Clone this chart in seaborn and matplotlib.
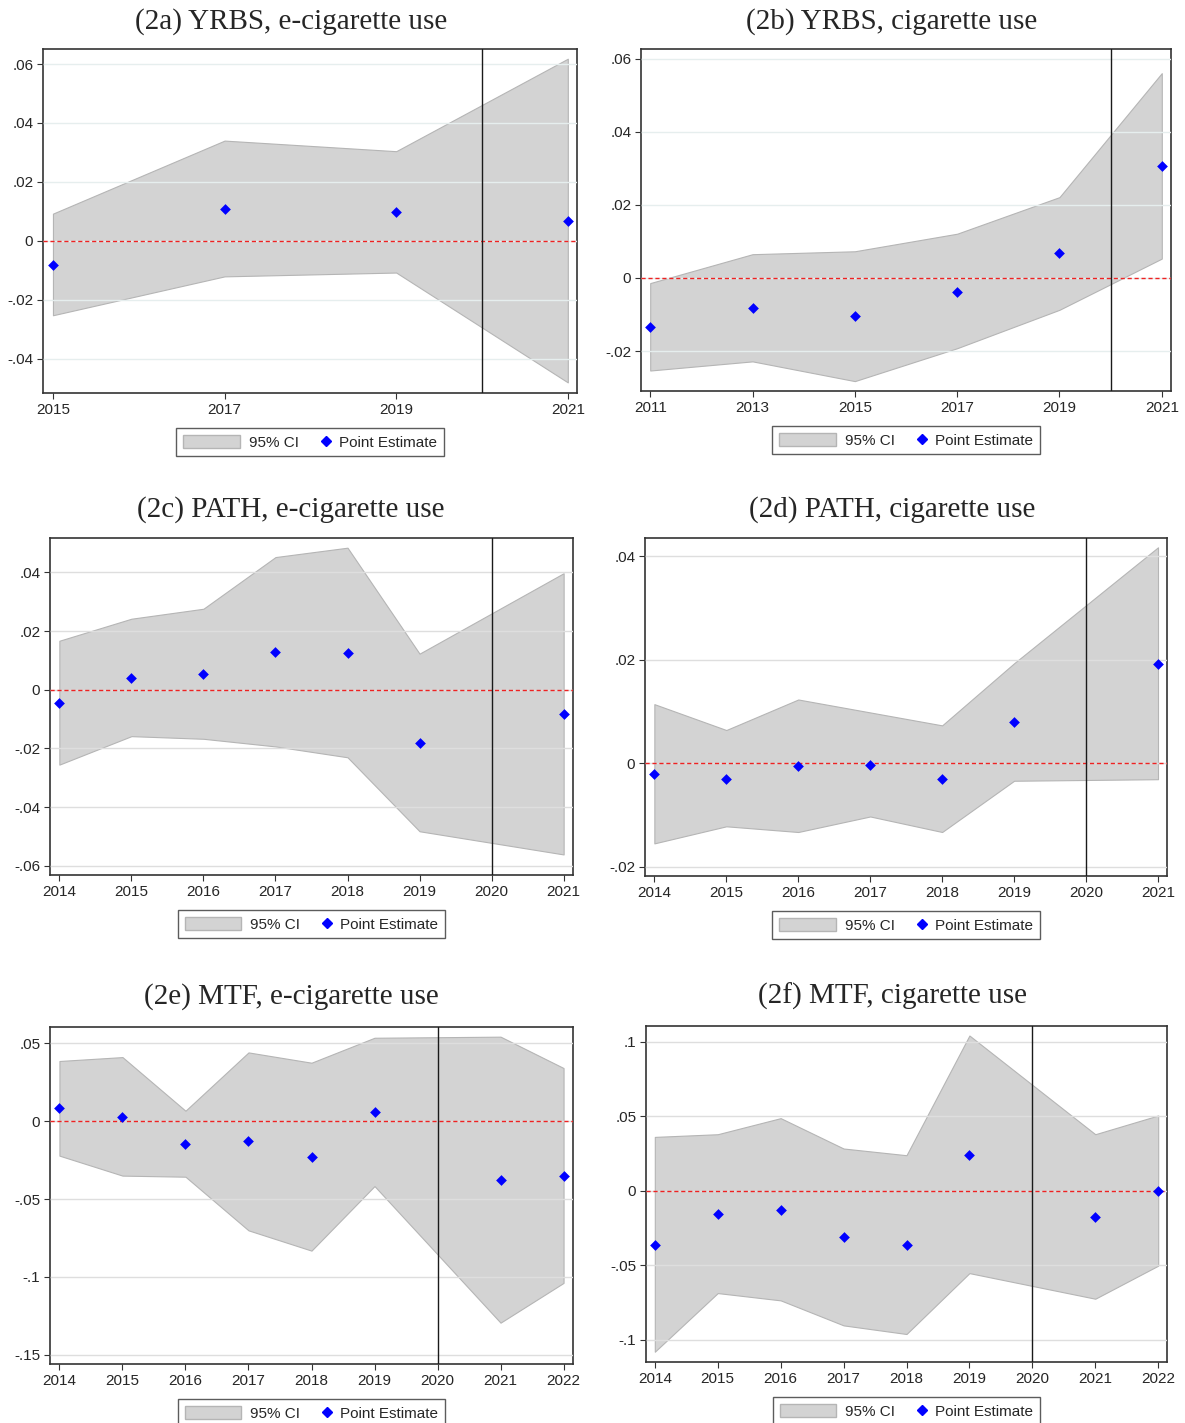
import matplotlib
matplotlib.use("Agg")
import matplotlib.pyplot as plt
import seaborn as sns
from matplotlib.patches import Patch
from matplotlib.lines import Line2D
from matplotlib.legend_handler import HandlerLine2D
from matplotlib.ticker import FuncFormatter

sns.set_style("white")
plt.rcParams["font.family"] = ["Liberation Sans", "DejaVu Sans"]

# --- data ---
# (2a) YRBS, e-cigarette use
yrbs_ecig_years = [2015, 2017, 2019, 2021]
yrbs_ecig_est = [-0.0082, 0.0108, 0.0098, 0.0068]
yrbs_ecig_lo = [-0.0253, -0.0121, -0.0108, -0.0481]
yrbs_ecig_hi = [0.0092, 0.0340, 0.0304, 0.0618]

# (2b) YRBS, cigarette use
yrbs_cig_years = [2011, 2013, 2015, 2017, 2019, 2021]
yrbs_cig_est = [-0.0134, -0.0083, -0.0105, -0.0037, 0.0067, 0.0307]
yrbs_cig_lo = [-0.0253, -0.0228, -0.0282, -0.0192, -0.0087, 0.0053]
yrbs_cig_hi = [-0.0014, 0.0065, 0.0073, 0.0121, 0.0221, 0.0560]

# (2c) PATH, e-cigarette use
path_ecig_years = [2014, 2015, 2016, 2017, 2018, 2019, 2021]
path_ecig_est = [-0.0044, 0.0041, 0.0053, 0.0128, 0.0126, -0.0180, -0.0083]
path_ecig_lo = [-0.0255, -0.0158, -0.0167, -0.0193, -0.0230, -0.0482, -0.0561]
path_ecig_hi = [0.0167, 0.0242, 0.0276, 0.0452, 0.0484, 0.0123, 0.0397]

# (2d) PATH, cigarette use
path_cig_years = [2014, 2015, 2016, 2017, 2018, 2019, 2021]
path_cig_est = [-0.0021, -0.0030, -0.0005, -0.0004, -0.0030, 0.0079, 0.0192]
path_cig_lo = [-0.0155, -0.0122, -0.0133, -0.0103, -0.0133, -0.0034, -0.0031]
path_cig_hi = [0.0114, 0.0064, 0.0123, 0.0098, 0.0073, 0.0193, 0.0417]

# (2e) MTF, e-cigarette use
mtf_ecig_years = [2014, 2015, 2016, 2017, 2018, 2019, 2021, 2022]
mtf_ecig_est = [0.0081, 0.0026, -0.0147, -0.0130, -0.0231, 0.0056, -0.0378, -0.0353]
mtf_ecig_lo = [-0.0222, -0.0350, -0.0357, -0.0701, -0.0831, -0.0417, -0.1293, -0.1038]
mtf_ecig_hi = [0.0385, 0.0410, 0.0066, 0.0440, 0.0374, 0.0534, 0.0541, 0.0340]

# (2f) MTF, cigarette use
mtf_cig_years = [2014, 2015, 2016, 2017, 2018, 2019, 2021, 2022]
mtf_cig_est = [-0.0362, -0.0157, -0.0128, -0.0313, -0.0365, 0.0242, -0.0174, -0.0002]
mtf_cig_lo = [-0.1081, -0.0687, -0.0736, -0.0904, -0.0962, -0.0553, -0.0725, -0.0503]
mtf_cig_hi = [0.0362, 0.0380, 0.0488, 0.0284, 0.0239, 0.1043, 0.0380, 0.0506]

titles = ["(2a) YRBS, e-cigarette use", "(2b) YRBS, cigarette use",
          "(2c) PATH, e-cigarette use", "(2d) PATH, cigarette use",
          "(2e) MTF, e-cigarette use", "(2f) MTF, cigarette use"]

panels = [
    (yrbs_ecig_years, yrbs_ecig_est, yrbs_ecig_lo, yrbs_ecig_hi),
    (yrbs_cig_years, yrbs_cig_est, yrbs_cig_lo, yrbs_cig_hi),
    (path_ecig_years, path_ecig_est, path_ecig_lo, path_ecig_hi),
    (path_cig_years, path_cig_est, path_cig_lo, path_cig_hi),
    (mtf_ecig_years, mtf_ecig_est, mtf_ecig_lo, mtf_ecig_hi),
    (mtf_cig_years, mtf_cig_est, mtf_cig_lo, mtf_cig_hi),
]

xticks = [
    [2015, 2017, 2019, 2021],
    [2011, 2013, 2015, 2017, 2019, 2021],
    list(range(2014, 2022)),
    list(range(2014, 2022)),
    list(range(2014, 2023)),
    list(range(2014, 2023)),
]
yticks = [
    [-0.04, -0.02, 0, 0.02, 0.04, 0.06],
    [-0.02, 0, 0.02, 0.04, 0.06],
    [-0.06, -0.04, -0.02, 0, 0.02, 0.04],
    [-0.02, 0, 0.02, 0.04],
    [-0.15, -0.1, -0.05, 0, 0.05],
    [-0.1, -0.05, 0, 0.05, 0.1],
]
xlims = [(2014.884, 2021.107), (2010.82, 2021.18), (2013.87, 2021.13),
         (2013.87, 2021.125), (2013.85, 2022.15), (2013.86, 2022.14)]
ylims = [(-0.0517, 0.0651), (-0.0309, 0.0626), (-0.0631, 0.0517),
         (-0.0218, 0.0435), (-0.1558, 0.0603), (-0.115, 0.1107)]

# --- layout in pixels: left, top, right, bottom ---
W, H = 1185, 1423
boxes = [(43, 49, 577, 393), (641, 49, 1171, 391),
         (50, 538, 573, 875), (645, 538, 1167, 876),
         (50, 1027, 573, 1364), (646, 1026, 1167, 1362)]
title_x = [291, 892, 291, 892, 291, 892]
title_base = [29, 29, 517, 517, 1004, 1004]
grid_colors = ["#e6eeee", "#e6eeee", "#dedede", "#dedede", "#dedede", "#dedede"]

ci_face = "#d3d3d3"
ci_edge = "#b5b5b5"


def stata_fmt(v, pos):
    if abs(v) < 1e-9:
        return "0"
    s = f"{round(v, 4):g}"
    return s.replace("0.", ".")


fig = plt.figure(figsize=(W / 100, H / 100), dpi=100)

for i, (yrs, est, lo, hi) in enumerate(panels):
    l, t, r, b = boxes[i]
    ax = fig.add_axes([l / W, 1 - b / H, (r - l) / W, (b - t) / H])

    ax.fill_between(yrs, lo, hi, facecolor=ci_face, edgecolor=ci_edge,
                    linewidth=0.8, zorder=1)
    ax.axhline(0, color="#ee2222", linestyle=(0, (3, 2)), linewidth=1.0, zorder=3)
    ax.axvline(2020, color="#1a1a1a", linewidth=1.0, zorder=3)
    sns.scatterplot(x=yrs, y=est, marker="D", color="blue", s=30,
                    linewidth=0, ax=ax, zorder=4)

    ax.set_xlim(*xlims[i])
    ax.set_ylim(*ylims[i])
    ax.set_xticks(xticks[i])
    ax.set_yticks(yticks[i])
    ax.yaxis.set_major_formatter(FuncFormatter(stata_fmt))
    ax.set_axisbelow(False)
    ax.grid(axis="y", color=grid_colors[i], linewidth=1.0, zorder=2)
    ax.tick_params(axis="both", direction="out", length=4, width=0.8,
                   color="#333333", labelsize=11, pad=3, bottom=True, left=True)
    for sp in ax.spines.values():
        sp.set_color("#333333")
        sp.set_linewidth(1.2)

    fig.text(title_x[i] / W, 1 - title_base[i] / H, titles[i],
             ha="center", va="baseline", fontsize=21,
             family=["Liberation Serif", "DejaVu Serif"])

    handles = [Patch(facecolor=ci_face, edgecolor=ci_edge, label="95% CI"),
               Line2D([], [], marker="D", color="blue", linestyle="none",
                      markersize=5, label="Point Estimate")]
    ax_h = b - t
    leg = ax.legend(handles=handles, ncol=2, loc="upper center",
                    bbox_to_anchor=(0.5, -35 / ax_h), borderaxespad=0,
                    fontsize=11, frameon=True, fancybox=False,
                    handlelength=3.7, handleheight=0.92, handletextpad=0.6,
                    borderpad=0.45, columnspacing=-1.7,
                    handler_map={handles[1]: HandlerLine2D(numpoints=1, xpad=3.2)})
    leg.get_frame().set_edgecolor("#333333")
    leg.get_frame().set_linewidth(1.0)

fig.savefig("out.png", dpi=100)
